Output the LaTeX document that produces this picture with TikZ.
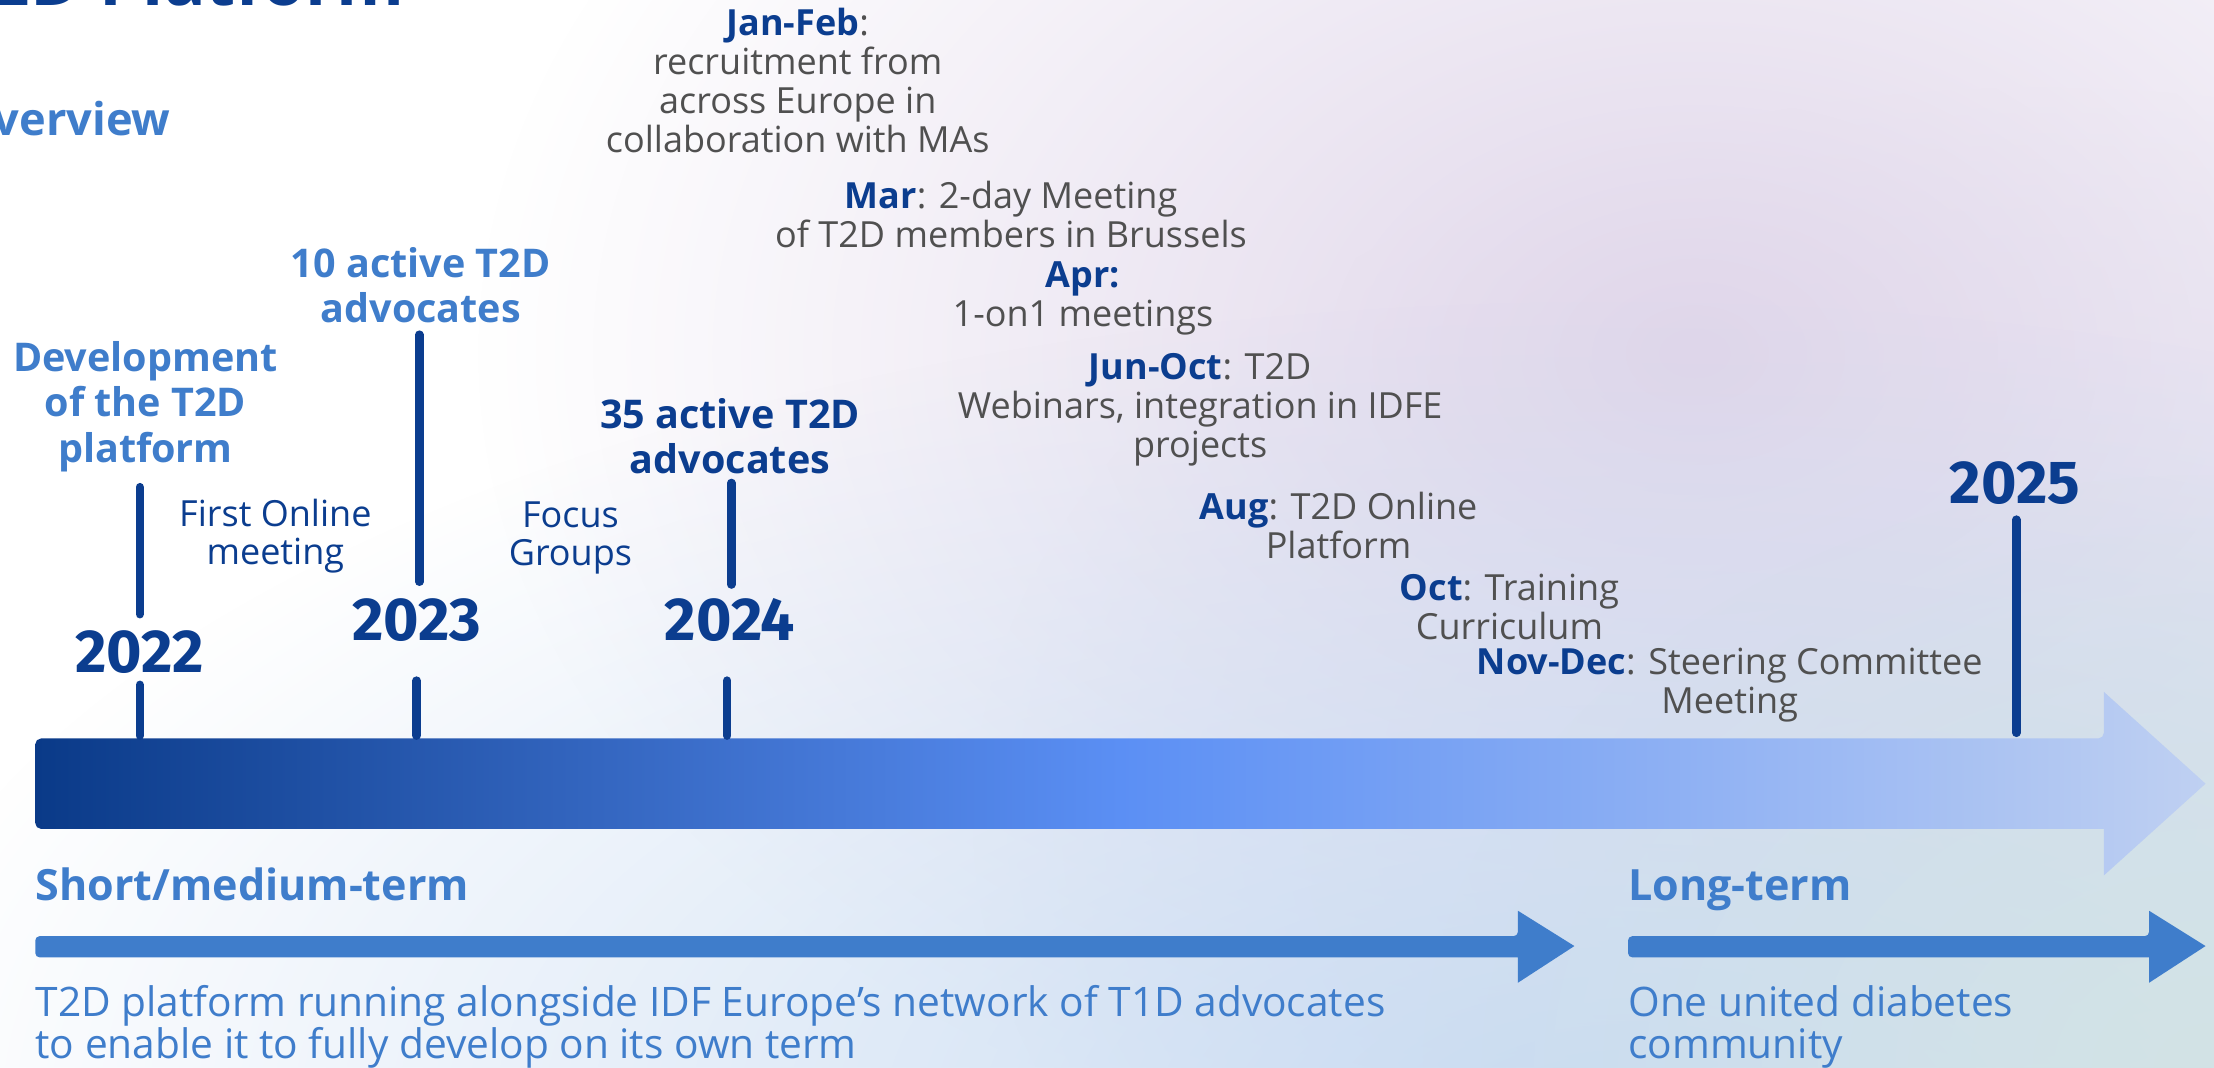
\documentclass[tikz,border=0pt]{standalone}
\usepackage{fontspec}
\setmainfont{Open Sans}
\newfontfamily\yearfont{Fira Sans}
\usetikzlibrary{fadings}
\definecolor{dkb}{HTML}{0B3D8F}
\definecolor{mdb}{HTML}{3F7DCB}
\definecolor{gry}{HTML}{505050}
\definecolor{arA}{HTML}{0A3A88}
\definecolor{arB}{HTML}{5B8FF4}
\definecolor{arC}{HTML}{BFD0F2}
\definecolor{bgR}{HTML}{E2E7F2}
\definecolor{bgP}{HTML}{E0D6EA}
\definecolor{bgL}{HTML}{C8DBF2}
\definecolor{bgT}{HTML}{D2E3E5}
\tikzfading[name=radfade, inner color=transparent!0, outer color=transparent!100]
\tikzset{
  gtext/.style={font=\fontsize{25.5}{27.6}\selectfont, text=gry, align=center, inner sep=0pt},
  btext/.style={font=\fontsize{28}{32}\selectfont\bfseries, align=center, inner sep=0pt},
  stext/.style={font=\fontsize{25.5}{27}\selectfont, text=dkb, align=center, inner sep=0pt},
  year/.style={font=\yearfont\fontsize{43}{43}\selectfont\bfseries, text=dkb, inner sep=0pt},
  tick/.style={draw=dkb, line width=6pt, line cap=round},
  head/.style={font=\fontsize{30.5}{32}\selectfont\bfseries, text=mdb, inner sep=0pt, anchor=base west},
  desc/.style={font=\fontsize{28.8}{29.5}\selectfont, text=mdb, inner sep=0pt, anchor=north west, align=left},
  smallarrow/.style={fill=mdb}
}
\newcommand{\mo}[1]{\textbf{\color{dkb}#1}}
\begin{document}
\begin{tikzpicture}[x=1pt,y=-1pt]
\useasboundingbox (0,0) rectangle (1568,756);
\clip (0,0) rectangle (1568,756);
% background
\fill[white] (0,0) rectangle (1568,756);
\fill[bgR, path fading=radfade] (1450,580) ellipse (760 and 520);
\fill[bgP, path fading=radfade] (1200,250) ellipse (860 and 600);
\fill[bgL, path fading=radfade] (1150,790) ellipse (1250 and 580);
\fill[bgT, path fading=radfade] (1568,756) ellipse (560 and 420);
% title remnants
\node[font=\fontsize{49}{49}\selectfont\bfseries, text=dkb, anchor=base east, inner sep=0pt] (title) at (287,4) {T2D Platform};
\node[font=\fontsize{32}{32}\selectfont\bfseries, text=mdb, anchor=base east, inner sep=0pt] (ovw) at (121,96) {Overview};
% main arrow
\path[left color=arA, right color=arC, middle color=arB]
  (25,523) [rounded corners=4pt] -- (1490,523) [sharp corners] -- (1490,490) -- (1562,555) -- (1490,620) -- (1490,587) [rounded corners=4pt] -- (25,587) -- cycle;
% ticks
\coordinate (t22a) at (99,345); \coordinate (t22b) at (99,435);
\coordinate (t22c) at (99,485); \coordinate (t22d) at (99,521);
\coordinate (t23a) at (297,237); \coordinate (t23b) at (297,412);
\coordinate (t23c) at (295,482); \coordinate (t23d) at (295,521);
\coordinate (t24a) at (518,342); \coordinate (t24b) at (518,414);
\coordinate (t24c) at (515,482); \coordinate (t24d) at (515,521);
\coordinate (t25a) at (1428,368); \coordinate (t25b) at (1428,519);
\draw[tick] (t22a) -- (t22b); \draw[tick] (t22c) -- (t22d);
\draw[tick] (t23a) -- (t23b); \draw[tick] (t23c) -- (t23d);
\draw[tick] (t24a) -- (t24b); \draw[tick] (t24c) -- (t24d);
\draw[tick] (t25a) -- (t25b);
% years
\node[year] (y22) at (99,462) {2022};
\node[year] (y23) at (295,439) {2023};
\node[year] (y24) at (517,439) {2024};
\node[year] (y25) at (1427,342) {2025};
% blue labels
\node[btext, text=mdb] (dev) at (103,288) {Development\\of the T2D\\platform};
\node[btext, text=mdb] (ten) at (298,202) {10 active T2D\\advocates};
\node[btext, text=dkb] (thf) at (517,309) {35 active T2D\\advocates};
\node[stext] (fom) at (195,380) {First Online\\meeting};
\node[stext] (fgr) at (404,381) {Focus\\Groups};
% months
\node[gtext] (jan) at (565,57) {\mo{Jan-Feb}:\\recruitment from\\across Europe in\\collaboration with MAs};
\node[gtext] (mar) at (716,152) {\mo{Mar}: 2-day Meeting\\of T2D members in Brussels};
\node[gtext] (apr) at (767,211) {\mo{Apr:}\\1-on1 meetings};
\node[gtext] (jun) at (850,290) {\mo{Jun-Oct}: T2D\\Webinars, integration in IDFE\\projects};
\node[gtext] (aug) at (948,372) {\mo{Aug}: T2D Online\\Platform};
\node[gtext] (oct) at (1069,430) {\mo{Oct}: Training\\Curriculum};
\node[gtext] (nov) at (1225,485) {\mo{Nov-Dec}: Steering Committee\\Meeting};
% bottom section
\node[head] (smt) at (25,638) {Short/medium-term};
\node[head] (lt) at (1153,638) {Long-term};
\path[smallarrow] (25,663) [rounded corners=3pt] -- (1075,663) [sharp corners] -- (1075,645) -- (1115,670) -- (1075,696) -- (1075,678) [rounded corners=3pt] -- (25,678) -- cycle;
\path[smallarrow] (1153,663) [rounded corners=3pt] -- (1522,663) [sharp corners] -- (1522,645) -- (1562,670) -- (1522,696) -- (1522,678) [rounded corners=3pt] -- (1153,678) -- cycle;
\node[desc] (d1) at (25,698) {T2D platform running alongside IDF Europe's network of T1D advocates\\to enable it to fully develop on its own term};
\node[desc] (d2) at (1153,698) {One united diabetes\\community};
\end{tikzpicture}
\end{document}
